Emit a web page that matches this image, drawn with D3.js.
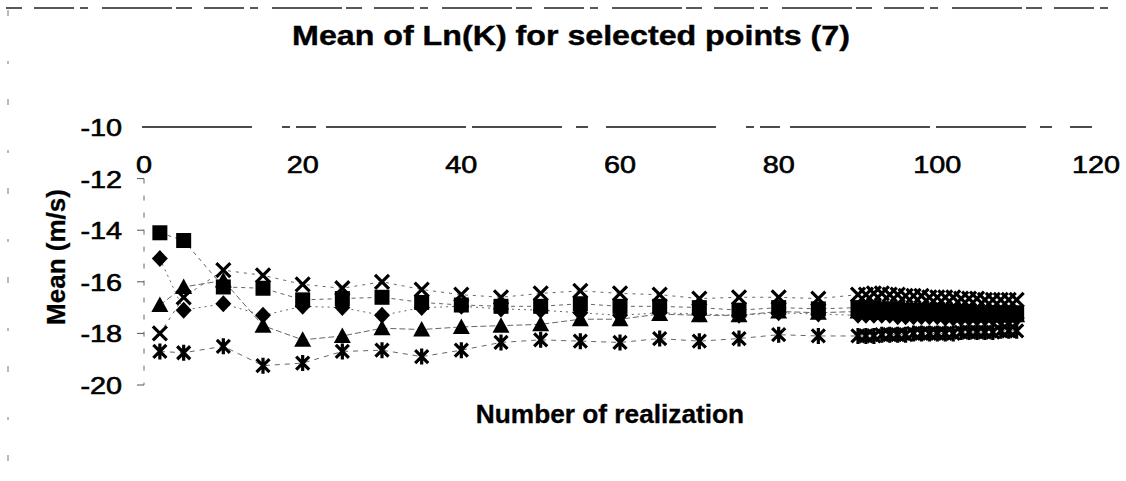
<!DOCTYPE html>
<html>
<head>
<meta charset="utf-8">
<script src="https://cdn.jsdelivr.net/npm/d3@7"></script>
<style>
  html, body { margin: 0; padding: 0; background: #fff; }
  svg { display: block; font-family: "Liberation Sans", Arial, sans-serif; }
</style>
</head>
<body>
<svg id="chart" width="1126" height="481"></svg>
<script>
// ---- data ----
const realizations = [2, 5, 10, 15, 20, 25, 30, 35, 40, 45, 50, 55, 60, 65, 70, 75, 80, 85,
  90, 91, 92, 93, 94, 95, 96, 97, 98, 99, 100, 101, 102, 103, 104, 105, 106, 107, 108, 109, 110];

const pointDiamond = [-15.1, -17.1, -16.85, -17.3, -16.95, -17.0, -17.3, -17.0, -16.95, -17.05, -17.1, -17.2, -17.3, -17.2, -17.25, -17.3, -17.2, -17.25,
  -17.3, -17.3, -17.3, -17.3, -17.3, -17.35, -17.35, -17.35, -17.35, -17.35, -17.35, -17.4, -17.4, -17.4, -17.4, -17.4, -17.4, -17.4, -17.4, -17.4, -17.4];

const pointSquare = [-14.1, -14.4, -16.2, -16.25, -16.7, -16.65, -16.6, -16.8, -16.9, -16.95, -16.95, -16.85, -16.95, -16.95, -17.0, -17.1, -17.0, -17.05,
  -17.0, -17.0, -17.0, -17.05, -17.05, -17.05, -17.1, -17.1, -17.1, -17.1, -17.1, -17.15, -17.15, -17.15, -17.15, -17.2, -17.2, -17.2, -17.2, -17.2, -17.2];

const pointTriangle = [-16.9, -16.2, -15.95, -17.7, -18.25, -18.1, -17.8, -17.85, -17.75, -17.7, -17.65, -17.45, -17.45, -17.25, -17.3, -17.3, -17.15, -17.2,
  -17.15, -17.15, -17.2, -17.2, -17.2, -17.2, -17.2, -17.25, -17.25, -17.25, -17.25, -17.25, -17.3, -17.3, -17.3, -17.3, -17.3, -17.3, -17.3, -17.3, -17.3];

const pointCross = [-18.0, -16.6, -15.55, -15.75, -16.1, -16.25, -16.0, -16.3, -16.5, -16.6, -16.45, -16.35, -16.45, -16.5, -16.65, -16.6, -16.6, -16.65,
  -16.5, -16.5, -16.45, -16.45, -16.5, -16.5, -16.55, -16.55, -16.55, -16.6, -16.6, -16.6, -16.6, -16.65, -16.65, -16.65, -16.7, -16.7, -16.7, -16.7, -16.7];

const pointStar = [-18.7, -18.75, -18.5, -19.25, -19.15, -18.7, -18.65, -18.9, -18.65, -18.35, -18.25, -18.3, -18.35, -18.2, -18.3, -18.2, -18.05, -18.1,
  -18.1, -18.1, -18.1, -18.05, -18.05, -18.05, -18.05, -18.0, -18.0, -18.0, -18.0, -18.0, -18.0, -17.95, -17.95, -17.95, -17.95, -17.95, -17.9, -17.9, -17.9];

const xTicks = [0, 20, 40, 60, 80, 100, 120];
const yTicks = [-10, -12, -14, -16, -18, -20];
const titleText = "Mean of Ln(K) for selected points (7)";
const xTitle = "Number of realization";
const yTitle = "Mean (m/s)";

const seriesList = [
  { name: "diamond", values: pointDiamond },
  { name: "square", values: pointSquare },
  { name: "triangle", values: pointTriangle },
  { name: "cross", values: pointCross },
  { name: "star", values: pointStar }
];

// ---- drawing ----
const svg = d3.select("#chart");
const x = d3.scaleLinear().domain([0, 120]).range([144, 1096]);
const y = d3.scaleLinear().domain([-20, -10]).range([385, 127]);

// stretched text helper (the scanned original is horizontally widened)
function sText(parent, tx, ty, str, size, weight, anchor, sx, thick) {
  const g = parent.append("g").attr("transform", `translate(${tx},${ty}) scale(${sx},1)`);
  const t = g.append("text").attr("x", 0).attr("y", 0).attr("text-anchor", anchor)
    .attr("font-size", size).attr("font-weight", weight).attr("fill", "#000").text(str);
  if (thick) t.attr("stroke", "#000").attr("stroke-width", thick);
  return g;
}

// chart-area border remnants (scanned)
svg.append("line").attr("x1", 6).attr("x2", 1120).attr("y1", 8).attr("y2", 8)
  .attr("stroke", "#222").attr("stroke-width", 1.5).attr("stroke-dasharray", "16,12,40,6,8,14,70,4");
svg.append("line").attr("x1", 8).attr("x2", 8).attr("y1", 10).attr("y2", 475)
  .attr("stroke", "#777").attr("stroke-width", 1).attr("stroke-dasharray", "6,45,3,35");

// title
sText(svg, 571, 45, titleText, 28, "bold", "middle", 1.15, 0.4);

// x axis at top (crosses at -10)
const xAxisG = svg.append("g").attr("transform", `translate(0,${y(-10)})`);
xAxisG.append("line").attr("x1", x(0) - 2).attr("x2", x(120) - 4).attr("y1", 0).attr("y2", 0)
  .attr("stroke", "#111").attr("stroke-width", 1.3).attr("stroke-dasharray", "110,30,8,6,20,10,140,6,90,14,12,18");
xTicks.forEach(d => sText(xAxisG, x(d), 46, String(d), 24, "normal", "middle", 1.2, 0.6));

// y axis (vertical at x=0)
const yAxisG = svg.append("g");
yAxisG.append("line").attr("x1", x(0)).attr("x2", x(0)).attr("y1", y(-12)).attr("y2", y(-20))
  .attr("stroke", "#666").attr("stroke-width", 1).attr("stroke-dasharray", "5,12");
yAxisG.selectAll("line.yt").data(yTicks.filter(d => d !== -10)).enter().append("line").attr("class", "yt")
  .attr("x1", x(0) - 7).attr("x2", x(0)).attr("y1", d => y(d)).attr("y2", d => y(d))
  .attr("stroke", "#555").attr("stroke-width", 1);
yTicks.forEach(d => sText(yAxisG, 122, y(d) + 9, String(d), 24, "normal", "end", 1.2, 0.6));

// axis titles
sText(svg, 610, 423, xTitle, 25, "bold", "middle", 1.05, 0.3);
svg.append("text").attr("transform", "translate(65,257) rotate(-90)").attr("text-anchor", "middle")
  .attr("font-size", 26).attr("font-weight", "bold").attr("fill", "#000")
  .attr("stroke", "#000").attr("stroke-width", 0.3).text(yTitle);

// lines
const line = d3.line().x(d => x(d[0])).y(d => y(d[1]));
const lineG = svg.append("g");
seriesList.forEach((s, i) => {
  const pts = realizations.map((r, j) => [r, s.values[j]]);
  lineG.append("path").attr("d", line(pts)).attr("fill", "none")
    .attr("stroke", "#666").attr("stroke-width", 1)
    .attr("stroke-dasharray", ["2,4", "4,4", "6,3", "3,5", "5,5"][i]);
});

// markers
const markerG = svg.append("g");
function drawMarker(g, type) {
  if (type === "diamond") {
    g.append("path").attr("d", "M0,-8.5 L8,0 L0,8.5 L-8,0 Z").attr("fill", "#000");
  } else if (type === "square") {
    g.append("rect").attr("x", -7.5).attr("y", -7.5).attr("width", 15).attr("height", 15).attr("fill", "#000");
  } else if (type === "triangle") {
    g.append("path").attr("d", "M0,-8.5 L8.5,7 L-8.5,7 Z").attr("fill", "#000");
  } else if (type === "cross") {
    g.append("path").attr("d", "M-7,-7 L7,7 M-7,7 L7,-7")
      .attr("stroke", "#000").attr("stroke-width", 3.2).attr("fill", "none");
  } else if (type === "star") {
    g.append("path").attr("d", "M-6.5,-6.5 L6.5,6.5 M-6.5,6.5 L6.5,-6.5 M0,-8 L0,8")
      .attr("stroke", "#000").attr("stroke-width", 3.2).attr("fill", "none");
  }
}
seriesList.forEach(s => {
  realizations.forEach((r, j) => {
    const g = markerG.append("g").attr("transform", `translate(${x(r)},${y(s.values[j])})`);
    drawMarker(g, s.name);
  });
});
</script>
</body>
</html>
